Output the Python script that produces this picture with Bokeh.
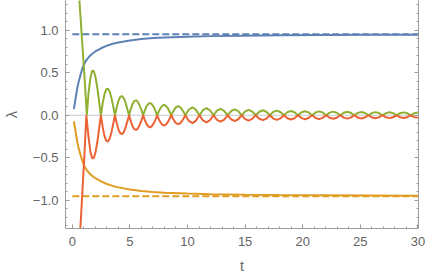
from bokeh.plotting import figure
from bokeh.models import Range1d, LinearAxis, FixedTicker, CustomJSTickFormatter, Span
from bokeh.embed import file_html
from bokeh.resources import INLINE

# ---------------- data ----------------
t_blue = [0.14, 0.25, 0.35, 0.45, 0.55, 0.7, 0.85, 1.0, 1.2, 1.45, 1.7, 2.0, 2.5, 3.0,
          3.5, 4.0, 5.0, 6.0, 7.0, 8.0, 10, 12, 15, 18, 22, 26, 30]
blue = [0.073, 0.17, 0.255, 0.33, 0.395, 0.47, 0.54, 0.595, 0.645, 0.69, 0.722, 0.752,
        0.79, 0.82, 0.843, 0.858, 0.882, 0.898, 0.91, 0.918, 0.927, 0.933, 0.938, 0.942,
        0.945, 0.948, 0.95]
orange = [-0.073, -0.165, -0.25, -0.325, -0.39, -0.46, -0.53, -0.585, -0.635, -0.68,
          -0.712, -0.742, -0.78, -0.81, -0.833, -0.85, -0.875, -0.892, -0.904, -0.913,
          -0.923, -0.93, -0.936, -0.941, -0.944, -0.947, -0.95]

t_limit = [0, 30]
blue_limit = [0.955, 0.955]
orange_limit = [-0.955, -0.955]

t_green_head = [0.55, 0.62, 0.79, 0.92, 1.04, 1.15, 1.26]
green_head = [1.50, 1.353, 1.0, 0.74, 0.5, 0.25, 0]
t_red_head = [0.62, 0.70, 0.87, 1.04, 1.14, 1.22]
red_head = [-1.55, -1.335, -0.92, -0.5, -0.22, 0]

t_osc = [1.41, 1.57, 1.72, 1.87, 2.02, 2.18, 2.33,
         2.48, 2.64, 2.79, 2.94, 3.09, 3.25, 3.40, 3.55,
         3.70, 3.86, 4.01, 4.16, 4.32, 4.47, 4.62, 4.77,
         4.93, 5.08, 5.23, 5.38, 5.54, 5.69, 5.84, 6.00,
         6.15, 6.30, 6.45, 6.61, 6.76, 6.91, 7.07, 7.22,
         7.37, 7.52, 7.68, 7.83, 7.98, 8.13, 8.29, 8.44,
         8.59, 8.75, 8.90, 9.05, 9.20, 9.36, 9.51, 9.66,
         9.81, 10.12, 10.43, 10.73,
         11.04, 11.34, 11.65, 11.95,
         12.26, 12.56, 12.87, 13.18,
         13.48, 13.79, 14.09, 14.40,
         14.70, 15.01, 15.31, 15.62,
         15.92, 16.23, 16.54, 16.84,
         17.15, 17.45, 17.76, 18.06,
         18.37, 18.67, 18.98, 19.29,
         19.59, 19.90, 20.20, 20.51,
         20.81, 21.12, 21.42, 21.73,
         22.03, 22.34, 22.65, 22.95,
         23.26, 23.56, 23.87, 24.17,
         24.48, 24.78, 25.09, 25.40,
         25.70, 26.01, 26.31, 26.62,
         26.92, 27.23, 27.53, 27.84,
         28.14, 28.45, 28.76, 29.06,
         29.37, 29.67, 30.00]
green_osc = [0.264, 0.440, 0.524, 0.521, 0.445, 0.317, 0.160,
             0, 0.142, 0.247, 0.306, 0.315, 0.278, 0.203, 0.105,
             0, 0.097, 0.172, 0.216, 0.226, 0.202, 0.149, 0.078,
             0, 0.073, 0.132, 0.167, 0.176, 0.158, 0.118, 0.062,
             0, 0.059, 0.107, 0.136, 0.144, 0.130, 0.098, 0.052,
             0, 0.050, 0.090, 0.115, 0.122, 0.111, 0.083, 0.044,
             0, 0.043, 0.077, 0.100, 0.106, 0.096, 0.072, 0.039,
             0, 0.068, 0.094, 0.064,
             0, 0.061, 0.084, 0.058,
             0, 0.055, 0.076, 0.052,
             0, 0.050, 0.069, 0.048,
             0, 0.046, 0.064, 0.044,
             0, 0.042, 0.059, 0.041,
             0, 0.040, 0.055, 0.038,
             0, 0.037, 0.051, 0.036,
             0, 0.035, 0.048, 0.034,
             0, 0.033, 0.046, 0.032,
             0, 0.031, 0.043, 0.030,
             0, 0.029, 0.041, 0.029,
             0, 0.028, 0.039, 0.027,
             0, 0.027, 0.037, 0.026,
             0, 0.025, 0.035, 0.025,
             0, 0.024, 0.034, 0.024,
             0, 0.023, 0.032]
red_osc = [-0.256, -0.427, -0.508, -0.505, -0.432, -0.307, -0.155,
           0, -0.140, -0.243, -0.300, -0.309, -0.273, -0.199, -0.103,
           0, -0.095, -0.169, -0.212, -0.222, -0.198, -0.146, -0.077,
           0, -0.072, -0.130, -0.164, -0.173, -0.155, -0.116, -0.061,
           0, -0.058, -0.105, -0.134, -0.142, -0.128, -0.096, -0.051,
           0, -0.049, -0.089, -0.113, -0.120, -0.109, -0.082, -0.043,
           0, -0.042, -0.076, -0.098, -0.104, -0.094, -0.071, -0.038,
           0, -0.067, -0.092, -0.063,
           0, -0.060, -0.083, -0.057,
           0, -0.054, -0.075, -0.051,
           0, -0.049, -0.068, -0.047,
           0, -0.045, -0.063, -0.043,
           0, -0.041, -0.058, -0.040,
           0, -0.039, -0.054, -0.037,
           0, -0.036, -0.050, -0.035,
           0, -0.034, -0.047, -0.033,
           0, -0.032, -0.045, -0.031,
           0, -0.030, -0.042, -0.029,
           0, -0.028, -0.040, -0.028,
           0, -0.027, -0.038, -0.026,
           0, -0.026, -0.036, -0.025,
           0, -0.024, -0.034, -0.024,
           0, -0.023, -0.033, -0.023,
           0, -0.022, -0.031]

x_ticks = [0, 5, 10, 15, 20, 25, 30]
x_minor = [v for v in range(0, 31)]
y_ticks = [-1.0, -0.5, 0.0, 0.5, 1.0]
y_minor = [round(-1.3 + 0.1 * i, 1) for i in range(27)]

assert len(t_osc) == len(green_osc) == len(red_osc)

# ---------------- figure ----------------
BLUE, ORANGE, GREEN, RED = "#5E81B5", "#E19C24", "#8FB032", "#EB6235"
FRAME = "#9c9c9c"
LABEL = "#646464"
FONT = "Liberation Sans"

p = figure(width=428, height=277, output_backend="svg", toolbar_location=None,
           x_range=Range1d(-0.59, 30.05), y_range=Range1d(-1.335, 1.353),
           min_border_left=55, min_border_right=10, min_border_top=0, min_border_bottom=49,
           x_axis_label="t", y_axis_label="λ")
p.outline_line_color = None
p.xgrid.grid_line_color = None
p.ygrid.grid_line_color = None
p.background_fill_color = "white"
p.border_fill_color = "white"

p.add_layout(Span(location=0, dimension="width", line_color="#c8c8c8", line_width=1,
                  level="underlay"))

def style(ax):
    ax.axis_line_color = FRAME
    ax.axis_line_width = 1
    ax.major_tick_line_color = FRAME
    ax.minor_tick_line_color = FRAME
    ax.major_tick_in = 4
    ax.major_tick_out = 0
    ax.minor_tick_in = 2
    ax.minor_tick_out = 0
    ax.major_label_text_font = FONT
    ax.major_label_text_font_size = "13px"
    ax.major_label_text_color = LABEL
    ax.axis_label_text_font = FONT
    ax.axis_label_text_font_size = "14px"
    ax.axis_label_text_font_style = "normal"
    ax.axis_label_text_color = LABEL

xa = p.xaxis[0]
xa.ticker = FixedTicker(ticks=x_ticks, minor_ticks=x_minor)
style(xa)
xa.major_label_standoff = 8
xa.axis_label_standoff = 9

ya = p.yaxis[0]
ya.ticker = FixedTicker(ticks=y_ticks, minor_ticks=y_minor)
ya.formatter = CustomJSTickFormatter(
    code="return (tick < -1e-9 ? '\u2212' : '') + Math.abs(tick).toFixed(1);")
style(ya)
ya.major_label_standoff = 7
ya.axis_label_standoff = 10

ra = LinearAxis(ticker=FixedTicker(ticks=y_ticks, minor_ticks=y_minor),
                formatter=CustomJSTickFormatter(code="return '';"))
style(ra)
ra.major_label_standoff = 0
p.add_layout(ra, "right")

p.line(t_limit, blue_limit, line_color=BLUE, line_width=2, line_dash="7 3")
p.line(t_limit, orange_limit, line_color=ORANGE, line_width=2, line_dash="7 3")
p.line(t_blue, blue, line_color=BLUE, line_width=2)
p.line(t_blue, orange, line_color=ORANGE, line_width=2)
p.line(t_green_head + t_osc, green_head + green_osc, line_color=GREEN, line_width=2)
p.line(t_red_head + t_osc, red_head + red_osc, line_color=RED, line_width=2)

open("out.html", "w").write(file_html(p, INLINE))
